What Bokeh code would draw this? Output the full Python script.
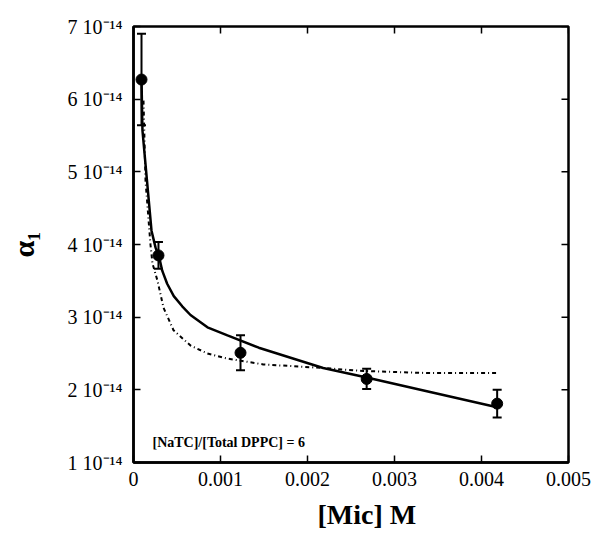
import math
from bokeh.plotting import figure
from bokeh.models import (FixedTicker, LinearAxis, Label, Whisker, TeeHead,
                          ColumnDataSource, Title)
from bokeh.embed import file_html
from bokeh.resources import INLINE

# ---- data ----
mic_conc = [0.000092, 0.000287, 0.00123, 0.00268, 0.00418]
alpha1 = [6.27e-14, 3.85e-14, 2.51e-14, 2.15e-14, 1.81e-14]
alpha1_err = [0.63e-14, 0.185e-14, 0.24e-14, 0.14e-14, 0.19e-14]

fit_solid_x = [0.000092, 0.000103, 0.000155, 0.000207, 0.000253, 0.000291, 0.00033,
               0.000387, 0.000463, 0.00056, 0.000655, 0.00085, 0.00108, 0.00144,
               0.00218, 0.00268, 0.00341, 0.00418]
fit_solid_y = [6.27e-14, 5.57e-14, 4.88e-14, 4.19e-14, 3.96e-14, 3.85e-14, 3.64e-14,
               3.46e-14, 3.29e-14, 3.15e-14, 3.03e-14, 2.86e-14, 2.75e-14, 2.58e-14,
               2.30e-14, 2.17e-14, 1.97e-14, 1.76e-14]

fit_dot_x = [0.000115, 0.000138, 0.000195, 0.000218, 0.000276, 0.000345, 0.00046,
             0.000655, 0.00085, 0.00108, 0.00149, 0.00218, 0.00264, 0.00341, 0.00418]
fit_dot_y = [5.98e-14, 4.88e-14, 4.0e-14, 3.74e-14, 3.5e-14, 3.13e-14, 2.82e-14,
             2.61e-14, 2.50e-14, 2.43e-14, 2.35e-14, 2.30e-14, 2.26e-14, 2.23e-14,
             2.23e-14]

x_ticks = [0, 0.001, 0.002, 0.003, 0.004, 0.005]
x_tick_labels = ["0", "0.001", "0.002", "0.003", "0.004", "0.005"]
y_ticks = [1e-14, 2e-14, 3e-14, 4e-14, 5e-14, 6e-14, 7e-14]
y_tick_labels = ["1 10⁻¹⁴", "2 10⁻¹⁴", "3 10⁻¹⁴", "4 10⁻¹⁴", "5 10⁻¹⁴",
                 "6 10⁻¹⁴", "7 10⁻¹⁴"]

FONT = "Liberation Serif"

p = figure(width=598, height=538, x_range=(0, 0.005), y_range=(1e-14, 7e-14),
           output_backend="svg", toolbar_location=None,
           x_axis_location=None, y_axis_location=None,
           min_border_left=133, min_border_right=30,
           min_border_top=26, min_border_bottom=76)
p.grid.visible = False
p.outline_line_color = "black"
p.outline_line_width = 2.5
p.background_fill_color = "white"
p.border_fill_color = "white"

xt = FixedTicker(ticks=x_ticks)
yt = FixedTicker(ticks=y_ticks)


def style_axis(ax):
    ax.axis_line_width = 2.5
    ax.axis_line_color = "black"
    ax.major_tick_in = 7
    ax.major_tick_out = 0
    ax.major_tick_line_width = 1.5
    ax.minor_tick_line_color = None
    ax.major_label_text_font = FONT
    ax.major_label_text_font_size = "20px"
    ax.major_label_text_color = "black"


bottom = LinearAxis(ticker=xt)
style_axis(bottom)
bottom.major_label_overrides = {t: s for t, s in zip(x_ticks, x_tick_labels)}
bottom.major_label_standoff = 9
p.add_layout(bottom, "below")

left = LinearAxis(ticker=yt)
style_axis(left)
left.major_label_overrides = {t: s for t, s in zip(y_ticks, y_tick_labels)}
left.major_label_standoff = 11
left.axis_label = "α₁"
left.axis_label_text_font = FONT
left.axis_label_text_font_size = "30px"
left.axis_label_text_font_style = "bold"
left.axis_label_text_color = "black"
left.axis_label_standoff = 25
p.add_layout(left, "left")

# mirrored inner ticks on top and right edges (clipped to the frame)
p.scatter(x=[0.005] * len(y_ticks), y=y_ticks, marker="dash", size=14,
          line_color="black", line_width=1.5)
p.scatter(x=x_ticks, y=[7e-14] * len(x_ticks), marker="dash", size=14,
          angle=math.pi / 2, line_color="black", line_width=1.5)

# fit curves
p.line(fit_dot_x, fit_dot_y, line_color="black", line_width=2,
       line_dash="4 3 1 3")
p.line(fit_solid_x, fit_solid_y, line_color="black", line_width=2.5)

# error bars
lower = [a - e for a, e in zip(alpha1, alpha1_err)]
upper = [a + e for a, e in zip(alpha1, alpha1_err)]
src = ColumnDataSource(dict(x=mic_conc, y=alpha1, lower=lower, upper=upper))
p.add_layout(Whisker(source=src, base="x", lower="lower", upper="upper",
                     line_color="black", line_width=2,
                     upper_head=TeeHead(size=9, line_width=2, line_color="black"),
                     lower_head=TeeHead(size=9, line_width=2, line_color="black")))
p.scatter("x", "y", source=src, size=11, marker="circle",
          fill_color="black", line_color="black")

# annotation
p.add_layout(Label(x=0.000218, y=1.28e-14, text="[NaTC]/[Total DPPC] = 6",
                   text_font=FONT, text_font_size="14px", text_font_style="bold",
                   text_align="left", text_baseline="middle", text_color="black"))

# x axis title (slightly right of centre, as in the original)
p.add_layout(Title(text="[Mic] M", align="left", offset=184, standoff=16,
                   text_font=FONT, text_font_size="28px", text_font_style="bold",
                   text_color="black"), "below")

open("out.html", "w").write(file_html(p, INLINE))
